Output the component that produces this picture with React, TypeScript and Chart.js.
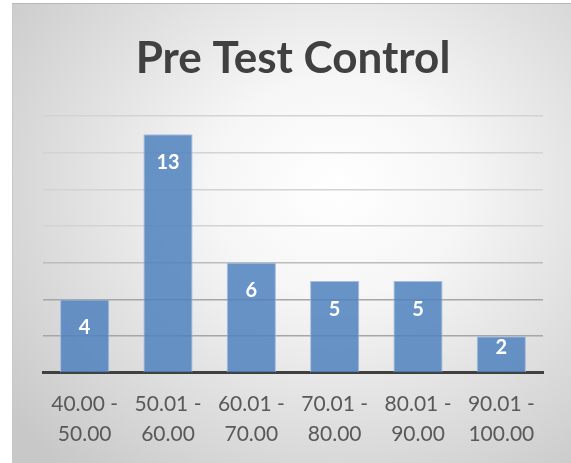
import React, { useEffect, useRef } from "react";
import { Chart, registerables } from "chart.js";

Chart.register(...registerables);

const chartTitle = "Pre Test Control";
const categories: string[][] = [
  ["40.00 -", "50.00"],
  ["50.01 -", "60.00"],
  ["60.01 -", "70.00"],
  ["70.01 -", "80.00"],
  ["80.01 -", "90.00"],
  ["90.01 -", "100.00"],
];
const counts: number[] = [4, 13, 6, 5, 5, 2];
const yMax = 14;
const yStep = 2;

const barLabelPlugin = {
  id: "barLabels",
  afterDatasetsDraw(chart: any) {
    const ctx = chart.ctx;
    const meta = chart.getDatasetMeta(0);
    ctx.save();
    ctx.fillStyle = "#ffffff";
    ctx.font = "bold 20px Lato";
    ctx.textAlign = "center";
    ctx.textBaseline = "middle";
    meta.data.forEach((bar: any, i: number) => {
      const top = bar.y;
      const bottom = bar.base;
      const y = Math.min(top + 28, (top + bottom) / 2 - 7);
      ctx.fillText(String(counts[i]), bar.x, y);
    });
    ctx.restore();
  },
};

export default function App() {
  const canvasRef = useRef<HTMLCanvasElement | null>(null);

  useEffect(() => {
    if (!canvasRef.current) return;
    const chart = new Chart(canvasRef.current, {
      type: "bar",
      data: {
        labels: categories,
        datasets: [
          {
            data: counts,
            backgroundColor: "rgba(79,129,189,0.85)",
            borderColor: "rgba(157,184,219,0.9)",
            borderWidth: 1,
            barPercentage: 0.59,
            categoryPercentage: 1,
          },
        ],
      },
      options: {
        animation: false,
        responsive: false,
        maintainAspectRatio: false,
        layout: { padding: { left: 43, right: 28, top: 0, bottom: -2 } },
        plugins: {
          legend: { display: false },
          tooltip: { enabled: false },
          title: {
            display: true,
            text: chartTitle,
            color: "#404040",
            font: { family: "Lato", size: 44, weight: "bold", lineHeight: 1.2 },
            padding: { top: 32, bottom: 31 },
          },
        },
        scales: {
          x: {
            grid: { display: false, drawTicks: false },
            border: { display: true, color: "#404040", width: 3 },
            ticks: {
              color: "#595959",
              font: { family: "Lato", size: 21, lineHeight: 1.43 },
              padding: 16,
              maxRotation: 0,
              autoSkip: false,
            },
          },
          y: {
            min: 0,
            max: yMax,
            ticks: { display: false, stepSize: yStep },
            grid: {
              drawTicks: false,
              lineWidth: 1.5,
              color: (c: any) => {
                const v = c.tick ? c.tick.value : 0;
                if (v <= 4) return "#a6a6a6";
                if (v <= 6) return "#bcbcbc";
                return "#d3d3d3";
              },
            },
            border: { display: false },
          },
        },
      },
      plugins: [barLabelPlugin],
    });
    return () => chart.destroy();
  }, []);

  return (
    <div style={{ position: "fixed", left: 0, top: 0, width: 571, height: 463, background: "#ffffff" }}>
      <div
        style={{
          position: "absolute",
          left: 12,
          top: 3,
          width: 559,
          height: 460,
          borderTop: "1px solid #b8b8b8",
          borderLeft: "1px solid #c8c8c8",
          boxSizing: "border-box",
          background:
            "radial-gradient(ellipse 75% 80% at 58% 40%, #ffffff 0%, #f6f6f6 30%, #e2e2e2 60%, #c8c8c8 100%)",
        }}
      />
      <canvas
        ref={canvasRef}
        width={571}
        height={463}
        style={{ position: "absolute", left: 0, top: 0, width: 571, height: 463 }}
      />
    </div>
  );
}
